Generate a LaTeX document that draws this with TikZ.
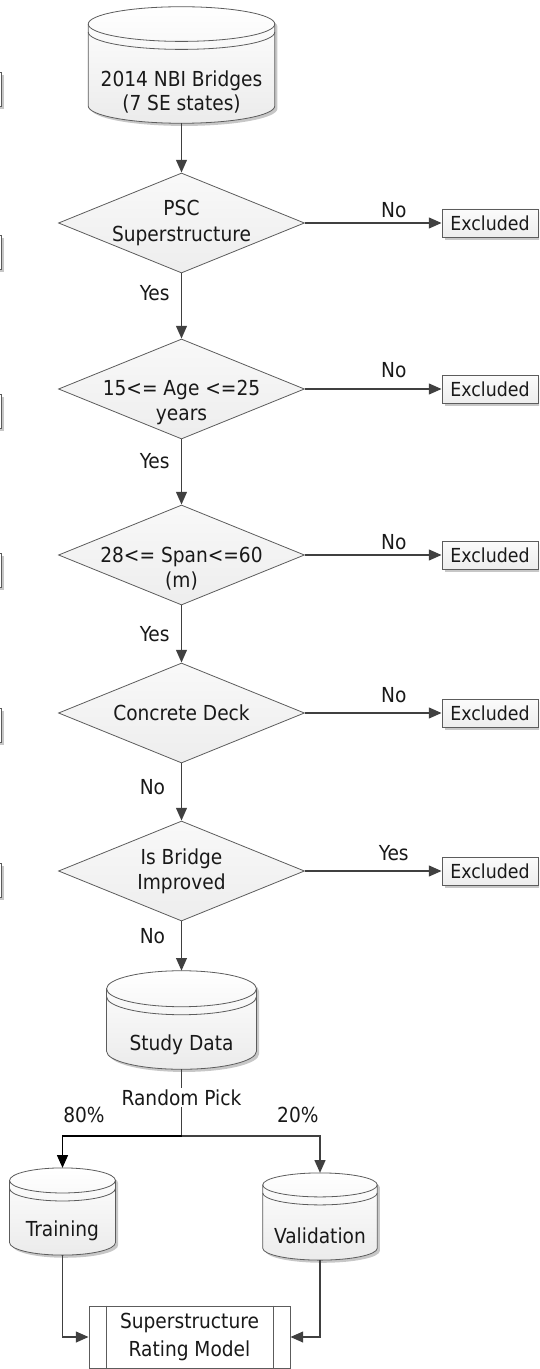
\documentclass[tikz,border=0pt]{standalone}
\usepackage{fontspec}
\setmainfont{DejaVu Sans Condensed}
\usetikzlibrary{arrows.meta,calc,shapes.geometric,shadows,positioning}
\definecolor{ink}{HTML}{404040}
\definecolor{edge}{HTML}{5C5C5C}
\definecolor{shade}{HTML}{EBEBEB}

\begin{document}
\begin{tikzpicture}[x=0.75pt,y=-0.75pt,text=black!90,
    font=\fontsize{15.5pt}{19pt}\selectfont,
    >={Triangle[length=9.5pt,width=8pt]},
    line/.style={draw=ink,line width=1.4pt},
    flow/.style={line,->},
    shadowed/.style={drop shadow={shadow xshift=2pt,shadow yshift=-2pt,
      fill=black,opacity=.22}},
    dec/.style={shape=diamond,aspect=2.46,inner xsep=-25pt,inner ysep=-15pt,
      minimum width=184.5pt,minimum height=75pt,align=center,
      draw=edge,line width=.6pt,top color=gray!5,bottom color=gray!14},
    outbox/.style={draw=edge,line width=.6pt,top color=gray!3,
      bottom color=gray!14,minimum width=72pt,minimum height=21pt,
      inner sep=0pt,font=\fontsize{14.5pt}{17pt}\selectfont,shadowed},
    dbbox/.style={inner sep=0pt},
    downlbl/.style={anchor=west,xshift=-33pt,inner sep=1pt}]
  \useasboundingbox (0,0) rectangle (539,1369);
  \clip (0,0) rectangle (539,1369);

  % boxes cut off at the left margin
  \foreach \y in {72,235,394,553,708,863}
    \draw[edge,line width=.6pt,fill=white,shadowed] (-60,\y) rectangle (1.5,\y+34);

  % data stores
  \node[dbbox,minimum width=139.5pt,minimum height=87pt] (src) at (181.5,65) {};
  \node[dbbox,minimum width=112pt,minimum height=73.5pt] (study) at (181.5,1020) {};
  \node[dbbox,minimum width=79pt,minimum height=65pt] (train) at (62.5,1211.5) {};
  \node[dbbox,minimum width=85.5pt,minimum height=65pt] (valid) at (320,1216.5) {};
  \foreach \db/\ry in {src/13pt,study/13.5pt,train/9.4pt,valid/9pt} {
    \draw[edge,line width=.6pt,top color=white,bottom color=shade,shadowed]
      let \p1=($(\db.east)-(\db.west)$) in
      ([yshift=-\ry]\db.north west) -- ([yshift=\ry]\db.south west)
      arc[start angle=180,end angle=360,x radius=.5*\x1,y radius=\ry]
      -- ([yshift=-\ry]\db.north east)
      arc[start angle=0,end angle=180,x radius=.5*\x1,y radius=\ry] -- cycle;
    \draw[edge,line width=.6pt] let \p1=($(\db.east)-(\db.west)$) in
      ([yshift=-\ry]\db.north west)
      arc[start angle=180,end angle=360,x radius=.5*\x1,y radius=\ry]
      ([yshift=-\ry-6pt]\db.north west)
      arc[start angle=180,end angle=360,x radius=.5*\x1,y radius=\ry];
  }
  \node[align=center,font=\fontsize{15.5pt}{17.5pt}\selectfont] (srctext)
    at (181.5,92) {2014 NBI Bridges\\(7 SE states)};
  \node (studytext) at (181.5,1045) {Study Data};
  \node (traintext) at (62.5,1231) {Training};
  \node (validtext) at (320,1236) {Validation};

  % filters
  \node[dec] (d1) at (181.5,223) {PSC\\Superstructure};
  \node[dec] (d2) at (181.5,389) {\rule{0pt}{32pt}15<= Age <=25\\years};
  \node[dec] (d3) at (181.5,555) {\rule{0pt}{32pt}28<= Span<=60\\(m)};
  \node[dec] (d4) at (181.5,713) {Concrete Deck};
  \node[dec] (d5) at (181.5,871) {Is Bridge\\Improved};

  \node[outbox] (x1) at (490,223) {Excluded};
  \node[outbox] (x2) at (490,389) {Excluded};
  \node[outbox] (x3) at (490,555) {Excluded};
  \node[outbox] (x4) at (490,713) {Excluded};
  \node[outbox] (x5) at (490,871) {Excluded};

  \draw[flow] (src) -- (d1);
  \draw[flow] (d1) -- node[downlbl,pos=.3] (y1) {Yes} (d2);
  \draw[flow] (d2) -- node[downlbl,pos=.33] (y2) {Yes} (d3);
  \draw[flow] (d3) -- node[downlbl,pos=.5] (y3) {Yes} (d4);
  \draw[flow] (d4) -- node[downlbl,pos=.42] (n4) {No} (d5);
  \draw[flow] (d5) -- node[downlbl,pos=.3] (n5) {No} (study);

  \draw[flow] (d1) -- node[above,pos=.65] (o1) {No} (x1);
  \draw[flow] (d2) -- node[above=4pt,pos=.65] (o2) {No} (x2);
  \draw[flow] (d3) -- node[above,pos=.65] (o3) {No} (x3);
  \draw[flow] (d4) -- node[above=4pt,pos=.65] (o4) {No} (x4);
  \draw[flow] (d5) -- node[above=4pt,pos=.65] (o5) {Yes} (x5);

  % split of the study data
  \coordinate (split) at (181.5,1136);
  \draw[line] (study) -- node[pos=.42,fill=white,inner sep=1pt] (pick) {Random Pick} (split);
  \draw[flow,draw=black] (split) -| node[pos=.41,above=6pt] (p80) {80\%} (train);
  \draw[flow] (split) -| node[pos=.42,above=6pt] (p20) {20\%} (valid);

  % model
  \node[draw=edge,line width=.6pt,fill=white,minimum width=150.75pt,
        minimum height=46.5pt,align=center,
        font=\fontsize{15.5pt}{21pt}\selectfont] (model) at (189.5,1337)
    {Superstructure\\Rating Model};
  \draw[edge,line width=.6pt]
    ([xshift=13pt]model.north west) -- ([xshift=13pt]model.south west)
    ([xshift=-13pt]model.north east) -- ([xshift=-13pt]model.south east);
  \draw[flow] (train) |- (model);
  \draw[flow] (valid) |- (model);
\end{tikzpicture}
\end{document}
